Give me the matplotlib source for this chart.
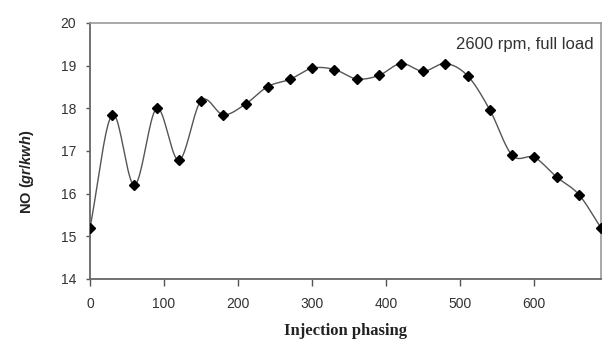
import numpy as np
import matplotlib
matplotlib.use("Agg")
import matplotlib.pyplot as plt

plt.rcParams['font.family'] = ['Liberation Sans', 'DejaVu Sans']
plt.rcParams['mathtext.fontset'] = 'custom'
plt.rcParams['mathtext.it'] = 'Liberation Sans:bold:italic'
plt.rcParams['mathtext.rm'] = 'Liberation Sans:bold'

phasing = [0, 30, 60, 90, 120, 150, 180, 210, 240, 270, 300, 330, 360, 390,
           420, 450, 480, 510, 540, 570, 600, 630, 660, 690]
no_vals = [15.2, 17.85, 16.2, 18.0, 16.78, 18.18, 17.85, 18.1, 18.51, 18.68,
           18.94, 18.91, 18.69, 18.77, 19.05, 18.87, 19.05, 18.76, 17.96, 16.9,
           16.85, 16.39, 15.98, 15.2]
x_ticks = [0, 100, 200, 300, 400, 500, 600]
y_ticks = [14, 15, 16, 17, 18, 19, 20]
annotation = "2600 rpm, full load"


def catmull_rom(x, y, n=20):
    x = np.asarray(x, float); y = np.asarray(y, float)
    px = np.concatenate([[2 * x[0] - x[1]], x, [2 * x[-1] - x[-2]]])
    py = np.concatenate([[2 * y[0] - y[1]], y, [2 * y[-1] - y[-2]]])
    xs, ys = [], []
    t = np.linspace(0, 1, n, endpoint=False)
    for i in range(1, len(px) - 2):
        p0, p1, p2, p3 = [np.array([px[j], py[j]]) for j in (i - 1, i, i + 1, i + 2)]
        tt = t[:, None]
        pts = 0.5 * ((2 * p1) + (-p0 + p2) * tt + (2 * p0 - 5 * p1 + 4 * p2 - p3) * tt ** 2
                     + (-p0 + 3 * p1 - 3 * p2 + p3) * tt ** 3)
        xs.extend(pts[:, 0]); ys.extend(pts[:, 1])
    xs.append(x[-1]); ys.append(y[-1])
    return np.array(xs), np.array(ys)


fig = plt.figure(figsize=(6.11, 3.41), dpi=100)
ax = fig.add_axes([90 / 611, 1 - 279 / 341, (601 - 90) / 611, (279 - 23) / 341])

sx, sy = catmull_rom(phasing, no_vals)
ax.plot(sx, sy, color='#555555', lw=1.0, zorder=2)
ax.plot(phasing, no_vals, linestyle='none', marker='D', ms=5.5, color='black', zorder=3)

ax.set_xlim(0, 690)
ax.set_ylim(14, 20)
ax.set_xticks(x_ticks)
ax.set_yticks(y_ticks)
ax.tick_params(axis='both', labelsize=10, colors='#555555', labelcolor='#333333', width=1)
ax.tick_params(axis='x', direction='out', length=5, pad=8)
ax.tick_params(axis='y', direction='out', length=3, pad=7)

for s in ('left', 'bottom'):
    ax.spines[s].set_color('#666666')
    ax.spines[s].set_linewidth(1.3)
for s in ('top', 'right'):
    ax.spines[s].set_color('#999999')
    ax.spines[s].set_linewidth(1.2)

ax.text(0.985, 0.915, annotation, transform=ax.transAxes, ha='right', va='center',
        fontsize=12, color='#333333')

fig.text(27 / 611, 1 - 172 / 341, r'NO ($gr/kwh$)', rotation=90, ha='center', va='center',
         fontsize=10.5, fontweight='bold', color='#222222')
fig.text(345 / 611, 1 - 331 / 341, 'Injection phasing', ha='center', va='center',
         fontsize=12, fontweight='bold', family='Liberation Serif', color='#222222')

fig.savefig('out.png', dpi=100, facecolor='white')
